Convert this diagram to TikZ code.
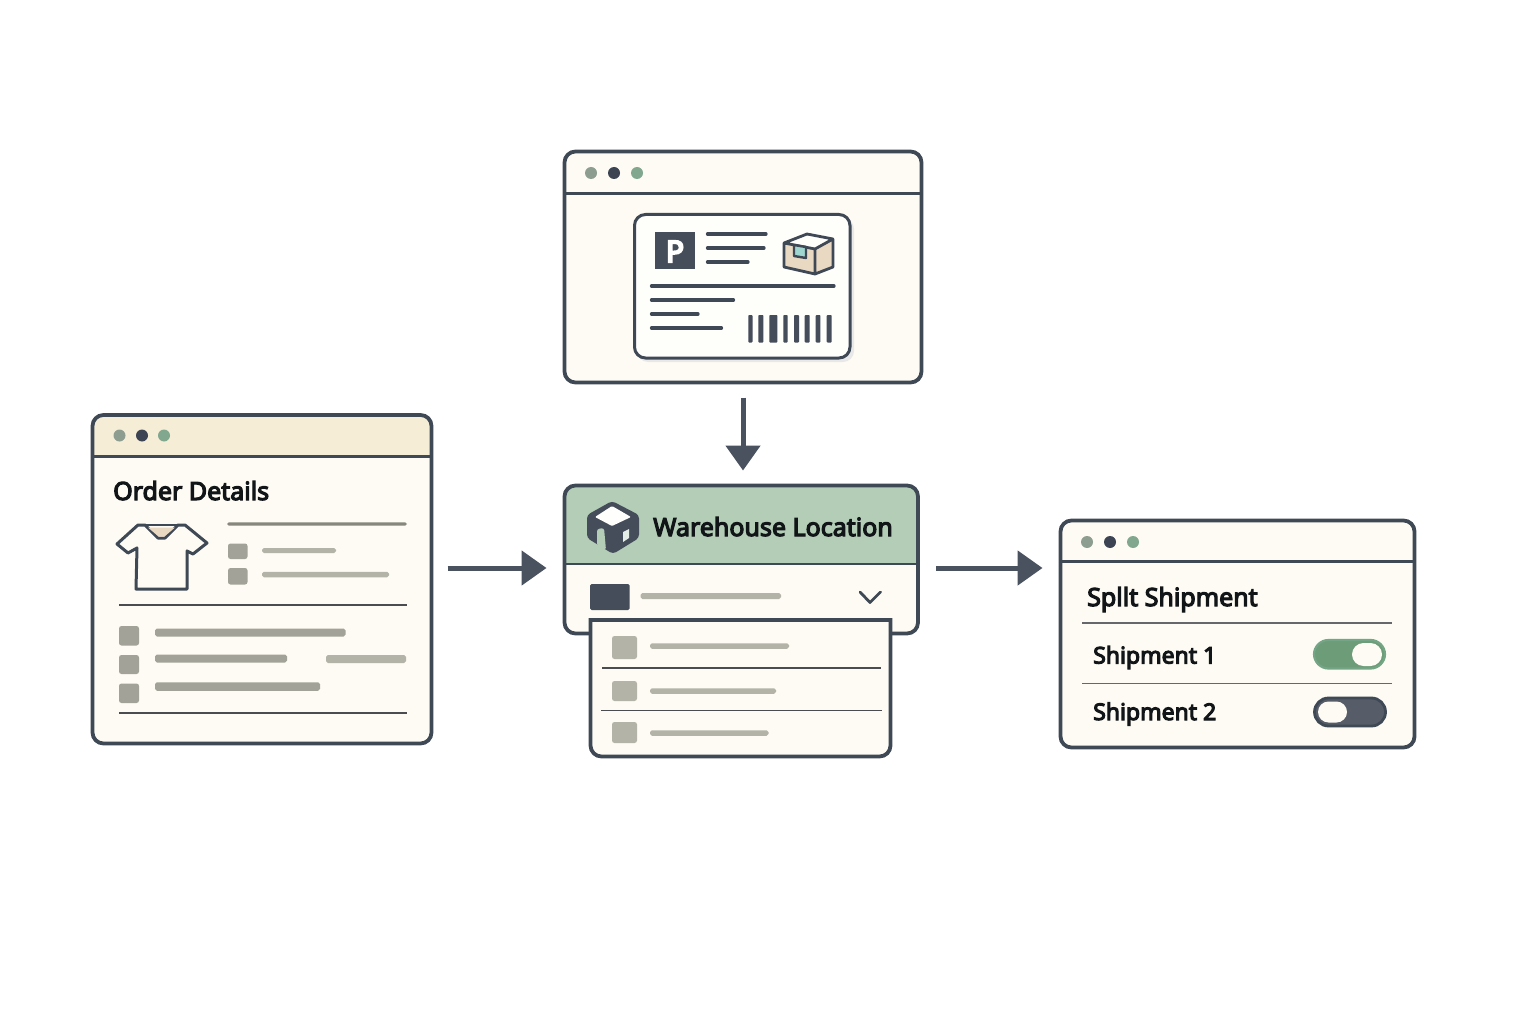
\documentclass[tikz,border=0pt]{standalone}
\usepackage{fontspec}
\setmainfont{Noto Sans}
\newfontfamily\semib{Noto Sans}[FakeBold=4.6]
\newfontfamily\heavyb{Noto Sans}[FakeBold=6.5]
\usetikzlibrary{arrows.meta}
\definecolor{ink}{HTML}{3F4855}
\definecolor{slate}{HTML}{454D5A}
\definecolor{arrowc}{HTML}{4A5260}
\definecolor{paper}{HTML}{FDFBF3}
\definecolor{cream}{HTML}{F6EDD6}
\definecolor{sage}{HTML}{B3CDB7}
\definecolor{dotA}{HTML}{8D9D90}
\definecolor{dotB}{HTML}{3C4353}
\definecolor{dotC}{HTML}{82A78F}
\definecolor{barA}{HTML}{A3A298}
\definecolor{barB}{HTML}{B4B3A8}
\definecolor{barE}{HTML}{87877D}
\definecolor{rule}{HTML}{4A4C50}
\definecolor{peach}{HTML}{E9D8C2}
\definecolor{teal}{HTML}{9FD6D0}
\definecolor{toggleG}{HTML}{6C9C78}
\definecolor{toggleD}{HTML}{565D68}
\definecolor{txt}{HTML}{121517}
\tikzset{
  winframe/.style={draw=ink,line width=3.8pt,rounded corners=11pt,inner sep=0pt,outer sep=0pt,rectangle},
  hline/.style={draw=ink,line width=2.8pt},
  divider/.style={draw=rule,line width=1.3pt},
  inkline/.style={draw=ink,line width=3.3pt,line cap=round},
  flow/.style={draw=arrowc,line width=5pt,-{Triangle[length=25pt,width=34pt]}},
  title/.style={font=\semib\fontsize{25}{30}\selectfont,text=txt,anchor=base west,inner sep=0pt},
  rowlabel/.style={font=\semib\fontsize{23}{28}\selectfont,text=txt,anchor=base west,inner sep=0pt},
}
% window: name x1 y1 x2 y2 headerY headerColor
\newcommand{\uiwindow}[7]{%
  \fill[paper,rounded corners=11pt] (#2,#3) rectangle (#4,#5);
  \fill[#7] (#2,#6) [rounded corners=11pt] -- (#2,#3) -- (#4,#3) [sharp corners] -- (#4,#6) -- cycle;
  \draw[hline] (#2,#6) -- (#4,#6);
  \pgfmathsetmacro{\wcx}{(#2+#4)/2}\pgfmathsetmacro{\wcy}{(#3+#5)/2}
  \pgfmathsetmacro{\ww}{#4-#2}\pgfmathsetmacro{\wh}{#5-#3}
  \node[winframe,minimum width=\ww pt,minimum height=\wh pt] (#1) at (\wcx,\wcy) {};
}
% three dots: x1 x2 x3 y
\newcommand{\uidots}[4]{%
  \fill[dotA] (#1,#4) circle (6pt);
  \fill[dotB] (#2,#4) circle (6pt);
  \fill[dotC] (#3,#4) circle (6pt);
}
% bar: x1 x2 yc h colour
\newcommand{\uibar}[5]{%
  \fill[#5,rounded corners=1.8pt] (#1,#3-#4/2) rectangle (#2,#3+#4/2);
}
% square: x1 y1 x2 y2 colour
\newcommand{\uisq}[5]{%
  \fill[#5,rounded corners=2.5pt] (#1,#2) rectangle (#3,#4);
}
\begin{document}
\begin{tikzpicture}[x=1pt,y=-1pt]
\useasboundingbox (0,0) rectangle (1536,1024);
\fill[white] (0,0) rectangle (1536,1024);

% ---------- Order window
\uiwindow{order}{92.5}{415}{431.5}{743.5}{456.5}{cream}
\uidots{119.5}{142}{164}{435.5}
\node[title] (ordertitle) at (113,500) {Order Details};
% shirt
\draw[draw=ink,line width=3pt,line join=round,fill=paper]
  (138,525) -- (117,544) -- (128,553) -- (137,548) -- (136,589) -- (187,589) -- (187,551) -- (193,554) -- (207,543) -- (185,525)
  -- (178,525) -- (165,538) -- (158,538) -- (145,525) -- cycle;
\fill[peach] (148,527.5) -- (158.5,536.5) -- (164.5,536.5) -- (175,527.5) -- cycle;
\draw[draw=ink,line width=2.4pt] (138,525) -- (185,525);
\uibar{227}{407}{524}{3.4}{barE}
\uisq{228}{543.5}{247.5}{559}{barA}
\uisq{228}{568}{247.5}{584.5}{barA}
\uibar{262}{336}{550.5}{5}{barB}
\uibar{262}{389}{574.5}{5.5}{barB}
\draw[divider] (119,605) -- (407,605);
\uisq{119}{626}{139}{645.5}{barA}
\uisq{119}{655}{139}{674}{barA}
\uisq{119}{683.5}{139}{703}{barA}
\uibar{155}{345.5}{632.5}{8}{barA}
\uibar{155}{287}{658.5}{8}{barA}
\uibar{326}{406}{659}{8}{barB}
\uibar{155}{320}{686.5}{8.5}{barA}
\draw[divider] (119,713) -- (407,713);

% ---------- Label window
\uiwindow{label}{564.5}{151.5}{921.5}{382.5}{193.5}{paper}
\uidots{591}{614}{637}{173}
\fill[black!9,rounded corners=11pt] (637,218) rectangle (854,362);
\draw[draw=ink,line width=3pt,fill=white!70!paper,rounded corners=11pt] (634.5,214.5) rectangle (850,358);
\fill[slate] (655,232.5) rectangle (694.5,269.5);
\node[font=\heavyb\fontsize{30}{30}\selectfont,text=white,inner sep=0pt] (plabel) at (675,251.5) {P};
\draw[inkline] (707.5,234) -- (766,234);
\draw[inkline] (707.5,248) -- (764,248);
\draw[inkline] (707.5,262) -- (748,262);
\draw[inkline] (651.5,286) -- (834,286);
\draw[inkline] (651.5,300) -- (733.5,300);
\draw[inkline] (651.5,314) -- (698,314);
\draw[inkline] (651.5,328) -- (721.5,328);
\foreach \xa/\xb in {748.3/752.5,758.3/763.3,769.3/777.3,783.3/787.7,794/799,804.7/809.7,815.7/820.3,826.7/831.7}
  \fill[slate,rounded corners=.8pt] (\xa,315) rectangle (\xb,342.5);
% parcel
\fill[white!70!paper] (784,243) -- (807,234) -- (833,239) -- (815,249) -- cycle;
\fill[peach] (784,243) -- (815,249) -- (815,274) -- (784,267) -- cycle;
\fill[peach] (815,249) -- (833,239) -- (833,267) -- (815,274) -- cycle;
\draw[draw=ink,line width=2.8pt,line join=round]
  (784,243) -- (807,234) -- (833,239) -- (833,267) -- (815,274) -- (784,267) -- cycle
  (784,243) -- (815,249) -- (833,239) (815,249) -- (815,274);
\draw[draw=ink,line width=2.4pt,fill=teal,line join=round] (794,245) -- (806,247) -- (806,258) -- (794,256) -- cycle;

% ---------- Warehouse window
\uiwindow{wh}{564.5}{485.5}{918}{633.5}{564}{sage}
\fill[slate,rounded corners=3.5pt] (612,501) -- (639,515) -- (639,538) -- (613,554) -- (587,538) -- (587,515) -- cycle;
\fill[white!80!paper,rounded corners=1pt] (612,506) -- (631,517) -- (612,526) -- (595,517) -- cycle;
\fill[sage,rounded corners=2.5pt] (597,546) -- (597,529) -- (604,528) -- (606,550) -- cycle;
\fill[sage!35!white] (623,532) -- (629,529) -- (629,538) -- (623,542) -- cycle;
\node[title] (whtitle) at (653,536) {Warehouse Location};
\fill[slate,rounded corners=1.5pt] (590,584) rectangle (629.5,610);
\uibar{640.5}{781}{596}{6}{barB}
\draw[draw=ink,line width=2.8pt,line cap=round,line join=round] (860,592) -- (870,602.5) -- (880.5,592);

% dropdown
\draw[draw=ink,line width=3.8pt,fill=paper,line join=miter] (590.5,620) -- (890.5,620) [rounded corners=11pt] -- (890.5,756.5) -- (590.5,756.5) [sharp corners] -- cycle;
\uisq{612}{636}{637}{659}{barB}
\uisq{612}{681}{637}{701}{barB}
\uisq{612}{722}{637}{743}{barB}
\uibar{650}{789}{646}{5.5}{barB}
\uibar{650}{776}{691}{5.5}{barB}
\uibar{650}{768.5}{733}{5.5}{barB}
\draw[divider] (602,668) -- (881,668);
\draw[divider] (601,710.5) -- (881.5,710.5);

% ---------- Split window
\uiwindow{split}{1060.5}{520.5}{1414.5}{747.5}{561.5}{paper}
\uidots{1087}{1110}{1133}{542}
\node[title] (splittitle) at (1087,606) {Spllt Shipment};
\draw[divider,draw=rule!85!white] (1082,623) -- (1392,623);
\draw[divider,draw=rule!85!white] (1082,683.5) -- (1392,683.5);
\node[rowlabel] (ship1) at (1093,663.5) {Shipment 1};
\node[rowlabel] (ship2) at (1093,720) {Shipment 2};
\draw[draw=toggleG!85!teal,line width=2.2pt,fill=toggleG,rounded corners=14.5pt] (1314,640) rectangle (1385,668.5);
\fill[paper,rounded corners=11.5pt] (1352,643) rectangle (1382,666);
\draw[draw=ink,line width=2.8pt,fill=toggleD,rounded corners=14pt] (1314.5,698) rectangle (1385.5,726);
\fill[paper,rounded corners=10.5pt] (1318,701.5) rectangle (1347,722.5);

% ---------- Connectors
\coordinate (rowmid) at (0,568);
\draw[flow,shorten <=15pt,shorten >=15pt] (label.south) -- (label.south |- wh.north);
\draw[flow,shorten <=16pt,shorten >=18pt] (order.east |- rowmid) -- (wh.west |- rowmid);
\draw[flow,shorten <=18pt,shorten >=18pt] (wh.east |- rowmid) -- (split.west |- rowmid);
\end{tikzpicture}
\end{document}
